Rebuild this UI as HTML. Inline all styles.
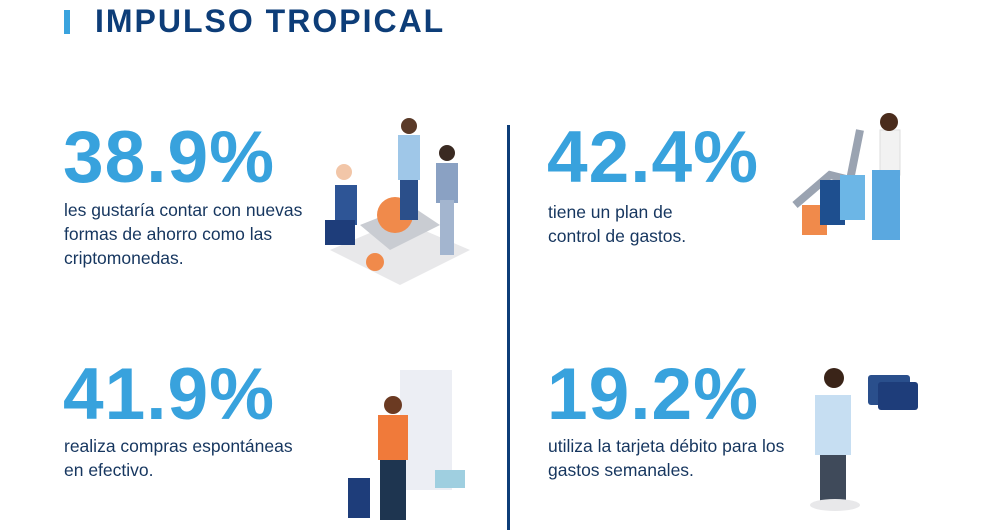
<!DOCTYPE html>
<html><head><meta charset="utf-8"><style>
body{margin:0;width:1000px;height:530px;background:#fff;position:relative;overflow:hidden;font-family:"Liberation Sans",sans-serif}
.a{position:absolute}
.pct{position:absolute;font-weight:bold;font-size:73px;color:#38a2dd;line-height:1;letter-spacing:1px}
.txt{position:absolute;font-size:17.5px;line-height:24px;color:#16365f}
</style></head><body>
<div class="a" style="left:64px;top:10px;width:6px;height:24px;background:#3aa3de"></div>
<div class="a" style="left:95px;top:3px;font-weight:bold;font-size:32px;color:#0d3d78;letter-spacing:2px">IMPULSO TROPICAL</div>
<div class="a" style="left:507px;top:125px;width:3px;height:405px;background:#0d3d78"></div>

<div class="pct" style="left:63px;top:121px">38.9%</div>
<div class="txt" style="left:64px;top:198px">les gustaría contar con nuevas<br>formas de ahorro como las<br>criptomonedas.</div>
<div class="pct" style="left:547px;top:121px">42.4%</div>
<div class="txt" style="left:548px;top:200px">tiene un plan de<br>control de gastos.</div>
<div class="pct" style="left:63px;top:358px">41.9%</div>
<div class="txt" style="left:64px;top:434px">realiza compras espontáneas<br>en efectivo.</div>
<div class="pct" style="left:547px;top:358px">19.2%</div>
<div class="txt" style="left:548px;top:434px">utiliza la tarjeta débito para los<br>gastos semanales.</div>

<svg class="a" style="left:0;top:0" width="1000" height="530">
<polygon points="330,250 400,220 470,250 400,285" fill="#e8e8ea"/>
<polygon points="360,225 410,205 440,225 390,250" fill="#c9ccd2"/>
<circle cx="395" cy="215" r="18" fill="#f08a4b"/>
<circle cx="375" cy="262" r="9" fill="#f08a4b"/>
<rect x="335" y="185" width="22" height="40" fill="#2e5596"/>
<rect x="325" y="220" width="30" height="25" fill="#1e3d7a"/>
<circle cx="344" cy="172" r="8" fill="#f2c6a8"/>
<rect x="398" y="135" width="22" height="45" fill="#9fc7e8"/>
<rect x="400" y="180" width="18" height="40" fill="#2b4f8a"/>
<circle cx="409" cy="126" r="8" fill="#5a3a28"/>
<rect x="436" y="163" width="22" height="40" fill="#8aa1c3"/>
<rect x="440" y="200" width="14" height="55" fill="#a3b5cf"/>
<circle cx="447" cy="153" r="8" fill="#3a2a22"/>
<polyline points="795,205 830,175 850,180 860,130" stroke="#9aa3b1" stroke-width="8" fill="none"/>
<rect x="802" y="205" width="25" height="30" fill="#f08a4b"/>
<rect x="820" y="180" width="25" height="45" fill="#1e4f8f"/>
<rect x="840" y="175" width="25" height="45" fill="#6cb6e6"/>
<rect x="880" y="130" width="20" height="45" fill="#f2f2f2" stroke="#ddd"/>
<rect x="872" y="170" width="28" height="70" fill="#5aa8e0"/>
<circle cx="889" cy="122" r="9" fill="#4a2c1c"/>
<rect x="400" y="370" width="52" height="120" fill="#eceef4"/>
<rect x="378" y="415" width="30" height="45" fill="#f07a3a"/>
<rect x="380" y="460" width="26" height="60" fill="#1e3550"/>
<circle cx="393" cy="405" r="9" fill="#6b3a22"/>
<rect x="348" y="478" width="22" height="40" fill="#1e3d7a"/>
<rect x="435" y="470" width="30" height="18" fill="#9fcfe0"/>
<rect x="868" y="375" width="42" height="30" rx="3" fill="#2a4f8c"/>
<rect x="878" y="382" width="40" height="28" rx="3" fill="#1e3d7a"/>
<rect x="815" y="395" width="36" height="60" fill="#c6def2"/>
<rect x="820" y="455" width="26" height="50" fill="#3f4a5a"/>
<circle cx="834" cy="378" r="10" fill="#3a2418"/>
<ellipse cx="835" cy="505" rx="25" ry="6" fill="#e8e8ea"/>
</svg>
</body></html>
